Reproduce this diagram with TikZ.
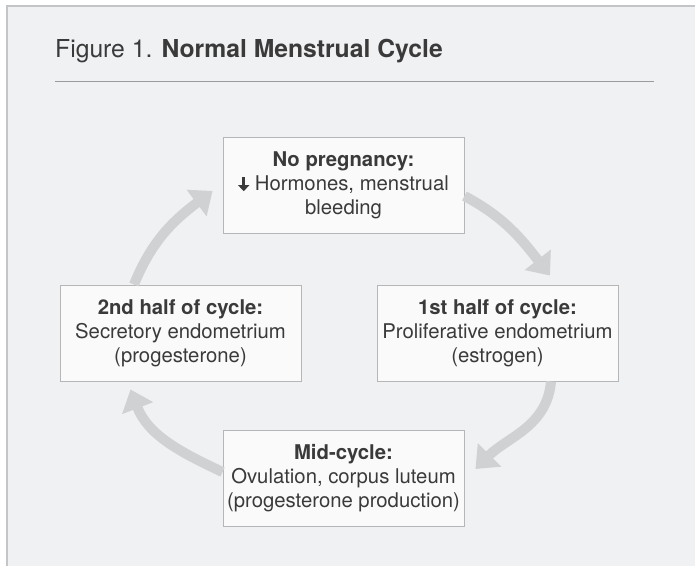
\documentclass[tikz,border=0pt]{standalone}
\usepackage{fontspec}
\setmainfont{TeX Gyre Heros}
\usetikzlibrary{arrows.meta}
\definecolor{panelbg}{HTML}{F0F1F3}
\definecolor{panelline}{HTML}{C4C5C7}
\definecolor{rulecol}{HTML}{9A9B9D}
\definecolor{boxfill}{HTML}{FAFAFA}
\definecolor{boxline}{HTML}{B5B6B8}
\definecolor{txt}{HTML}{3A3A3A}
\definecolor{arrowcol}{HTML}{D0D1D3}
\newcommand{\dnarrow}{\tikz[baseline=0pt]\draw[draw=txt,line width=2.8pt,-{Triangle[length=6pt,width=11pt]}] (0,13pt)--(0,-1pt);}
\begin{document}
\begin{tikzpicture}[x=1pt,y=1pt,
  cbox/.style={draw=boxline,fill=boxfill,line width=0.9pt,minimum width=241pt,minimum height=96pt,inner sep=0pt,align=center,text=txt,font=\fontsize{20.3}{24}\selectfont},
  cyc/.style={draw=arrowcol,line width=10pt,-{Triangle[length=20pt,width=32pt]}}]
\useasboundingbox (0,0) rectangle (695,566);
\fill[white] (0,0) rectangle (695,566);
\fill[panelbg] (7,0) rectangle (695,560);
\draw[panelline,line width=2pt] (7,0) -- (7,560) -- (695,560);
\node[anchor=base west,inner sep=0pt,text=txt,font=\fontsize{24.7}{28}\selectfont] (title) at (55,508) {Figure 1. \textbf{Normal Menstrual Cycle}};
\coordinate (ruleL) at (55,484);
\coordinate (ruleR) at (654,484);
\draw[rulecol,line width=1pt] (ruleL) -- (ruleR);
\node[cbox] (top) at (343.5,381) {\textbf{No pregnancy:}\\\dnarrow\ Hormones, menstrual\\bleeding};
\node[cbox] (left) at (180.5,233) {\textbf{2nd half of cycle:}\\Secretory endometrium\\(progesterone)};
\node[cbox] (right) at (497.5,233) {\textbf{1st half of cycle:}\\Proliferative endometrium\\(estrogen)};
\node[cbox] (bottom) at (343.5,87.5) {\textbf{Mid-cycle:}\\Ovulation, corpus luteum\\(progesterone production)};
\draw[cyc] ([yshift=-11pt]top.east) to[out=-28,in=128] ([xshift=52.5pt,yshift=9pt]right.north);
\draw[cyc] ([xshift=53.5pt]right.south) to[out=-95,in=45] ([xshift=11pt,yshift=9.5pt]bottom.east);
\draw[cyc] ([yshift=6.5pt]bottom.west) to[out=155,in=-69] ([xshift=-50pt,yshift=-8pt]left.south);
\draw[cyc] ([xshift=-46.5pt]left.north) to[out=68,in=-143] ([xshift=-10pt,yshift=-6pt]top.west);
\end{tikzpicture}
\end{document}
